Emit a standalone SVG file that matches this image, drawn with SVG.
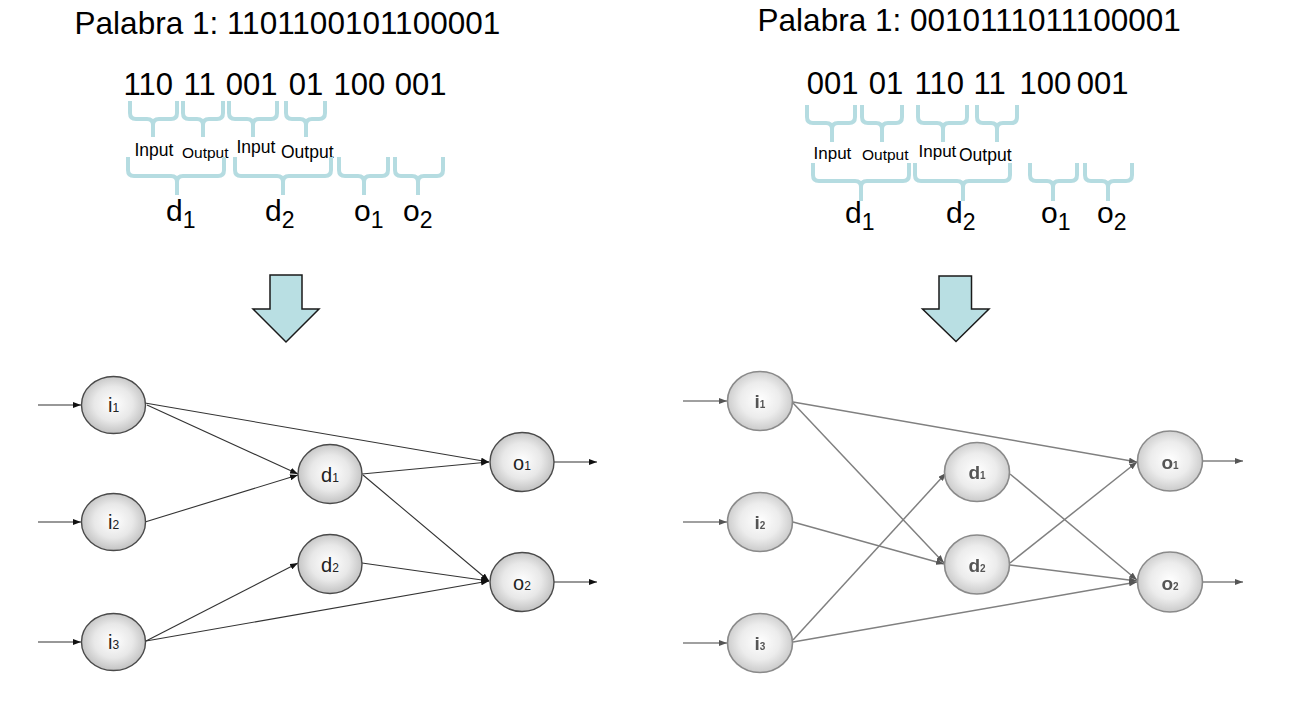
<svg xmlns="http://www.w3.org/2000/svg" width="1304" height="702" viewBox="0 0 1304 702">
<defs>
<radialGradient id="gN" cx="50%" cy="48%" r="55%">
<stop offset="0" stop-color="#ffffff"/>
<stop offset="0.55" stop-color="#e8e8e8"/>
<stop offset="1" stop-color="#bdbdbd"/>
</radialGradient>
<radialGradient id="gR" cx="50%" cy="48%" r="55%">
<stop offset="0" stop-color="#ffffff"/>
<stop offset="0.55" stop-color="#ececec"/>
<stop offset="1" stop-color="#c6c6c6"/>
</radialGradient>
<marker id="ah" viewBox="0 0 8 6" refX="8" refY="3" markerWidth="8" markerHeight="6" markerUnits="userSpaceOnUse" orient="auto">
<path d="M0,0 L8,3 L0,6 Z" fill="#111"/>
</marker>
<marker id="ahR" viewBox="0 0 8 6" refX="8" refY="3" markerWidth="8" markerHeight="6" markerUnits="userSpaceOnUse" orient="auto">
<path d="M0,0 L8,3 L0,6 Z" fill="#555"/>
</marker>
<filter id="soft" x="-10%" y="-10%" width="120%" height="120%">
<feGaussianBlur stdDeviation="0.55"/>
</filter>
</defs>
<style>
text{font-family:"Liberation Sans",Arial,sans-serif;fill:#000}
.title{font-size:31.5px}
.bits{font-size:31px}
.brace{fill:none;stroke:#b5dce1;stroke-width:4}
.down{fill:#b9dfe3;stroke:#1a1a1a;stroke-width:1.5}
.big{font-size:30px}
.bsub{font-size:23px}
.nodeL ellipse{fill:url(#gN);stroke:#4a4a4a;stroke-width:1.4}
.nodeL text{font-size:20px;fill:#222}
.nodeR ellipse{fill:url(#gR);stroke:#8a8a8a;stroke-width:1.6}
.nodeR text{font-size:19px;fill:#555;font-weight:bold}
.nodeR{filter:url(#soft)}
.sub{font-size:12px}
.subR{font-size:10px}
.edgeL line{stroke:#333;stroke-width:1.1;marker-end:url(#ah)}
.edgeR{filter:url(#soft)}
.edgeR line{stroke:#808080;stroke-width:1.5;marker-end:url(#ahR)}
</style>
<rect width="1304" height="702" fill="#ffffff"/>

<!-- LEFT HEADER -->
<g id="left-header">
<text class="title" x="74.6" y="34">Palabra 1: 1101100101100001</text>
<text class="bits" y="95"><tspan x="123.6">110</tspan><tspan x="183.6">11</tspan><tspan x="225.7">001</tspan><tspan x="288.7">01</tspan><tspan x="333.6">100</tspan><tspan x="394.7">001</tspan></text>
<g id="left-braces-top">
<path class="brace" d="M130,101 V113 Q130,119 136,119 H147 Q153,119 153,125 V137 M153,125 Q153,119 159,119 H171 Q177,119 177,113 V101"/>
<path class="brace" d="M183,101 V113 Q183,119 189,119 H197 Q203,119 203,125 V137 M203,125 Q203,119 209,119 H217 Q223,119 223,113 V101"/>
<path class="brace" d="M229,101 V113 Q229,119 235,119 H247 Q253,119 253,125 V137 M253,125 Q253,119 259,119 H271 Q277,119 277,113 V101"/>
<path class="brace" d="M286,101 V113 Q286,119 292,119 H300 Q306,119 306,125 V137 M306,125 Q306,119 312,119 H319 Q325,119 325,113 V101"/>
</g>
<text x="134.5" y="156" style="font-size:17.5px">Input</text>
<text x="182" y="158" style="font-size:15.5px">Output</text>
<text x="236.5" y="153" style="font-size:17.5px">Input</text>
<text x="281" y="157.5" style="font-size:17.5px">Output</text>
<g id="left-braces-bottom">
<path class="brace" d="M128,157 V170 Q128,176 134,176 H171 Q177,176 177,182 V195 M177,182 Q177,176 183,176 H218 Q224,176 224,170 V157"/>
<path class="brace" d="M235,157 V170 Q235,176 241,176 H277 Q283,176 283,182 V195 M283,182 Q283,176 289,176 H325 Q331,176 331,170 V157"/>
<path class="brace" d="M339,157 V170 Q339,176 345,176 H358 Q364,176 364,182 V195 M364,182 Q364,176 370,176 H382 Q388,176 388,170 V157"/>
<path class="brace" d="M395,157 V170 Q395,176 401,176 H412 Q418,176 418,182 V195 M418,182 Q418,176 424,176 H437 Q443,176 443,170 V157"/>
</g>
<text class="big" x="166" y="221">d<tspan class="bsub" dy="7">1</tspan></text>
<text class="big" x="265" y="221">d<tspan class="bsub" dy="7">2</tspan></text>
<text class="big" x="354" y="221">o<tspan class="bsub" dy="7">1</tspan></text>
<text class="big" x="403" y="221">o<tspan class="bsub" dy="7">2</tspan></text>
<polygon class="down" points="270,275 302,275 302,309 319,309 286,342 253,309 270,309"/>
</g>

<!-- RIGHT HEADER -->
<g id="right-header">
<text class="title" x="757.6" y="31">Palabra 1: 0010111011100001</text>
<text class="bits" y="93.5"><tspan x="806.7">001</tspan><tspan x="868.7">01</tspan><tspan x="914.6">110</tspan><tspan x="973.6">11</tspan><tspan x="1019.6">100</tspan><tspan x="1076.7">001</tspan></text>
<g id="right-braces-top">
<path class="brace" d="M807,105 V117 Q807,123 813,123 H826 Q832,123 832,129 V142 M832,129 Q832,123 838,123 H849 Q855,123 855,117 V105"/>
<path class="brace" d="M862,105 V117 Q862,123 868,123 H876 Q882,123 882,129 V142 M882,129 Q882,123 888,123 H896 Q902,123 902,117 V105"/>
<path class="brace" d="M918,105 V117 Q918,123 924,123 H937 Q943,123 943,129 V142 M943,129 Q943,123 949,123 H961 Q967,123 967,117 V105"/>
<path class="brace" d="M977,105 V117 Q977,123 983,123 H991 Q997,123 997,129 V142 M997,129 Q997,123 1003,123 H1011 Q1017,123 1017,117 V105"/>
</g>
<text x="813.5" y="159" style="font-size:17px">Input</text>
<text x="862" y="160" style="font-size:15.5px">Output</text>
<text x="918.5" y="156.7" style="font-size:17px">Input</text>
<text x="959" y="160.5" style="font-size:17.5px">Output</text>
<g id="right-braces-bottom">
<path class="brace" d="M813,163 V175 Q813,181 819,181 H855 Q861,181 861,187 V201 M861,187 Q861,181 867,181 H903 Q909,181 909,175 V163"/>
<path class="brace" d="M915,163 V175 Q915,181 921,181 H957 Q963,181 963,187 V201 M963,187 Q963,181 969,181 H1004 Q1010,181 1010,175 V163"/>
<path class="brace" d="M1030,163 V175 Q1030,181 1036,181 H1047 Q1053,181 1053,187 V201 M1053,187 Q1053,181 1059,181 H1071 Q1077,181 1077,175 V163"/>
<path class="brace" d="M1085,163 V175 Q1085,181 1091,181 H1102 Q1108,181 1108,187 V201 M1108,187 Q1108,181 1114,181 H1126 Q1132,181 1132,175 V163"/>
</g>
<text class="big" x="845" y="222.5">d<tspan class="bsub" dy="7">1</tspan></text>
<text class="big" x="946" y="222.5">d<tspan class="bsub" dy="7">2</tspan></text>
<text class="big" x="1041" y="222.5">o<tspan class="bsub" dy="7">1</tspan></text>
<text class="big" x="1097" y="222.5">o<tspan class="bsub" dy="7">2</tspan></text>
<polygon class="down" points="939,276 971.5,276 971.5,309 989,309 956,341.5 922.5,309 939,309"/>
</g>

<!-- LEFT NETWORK CONNECTORS -->
<g id="left-connectors" class="edgeL">
<line x1="38" y1="405" x2="81" y2="405"/>
<line x1="38" y1="522" x2="81" y2="522"/>
<line x1="38" y1="642" x2="81" y2="642"/>
<line x1="145" y1="403" x2="489" y2="462"/>
<line x1="147" y1="405" x2="298" y2="474"/>
<line x1="145" y1="522" x2="298" y2="475"/>
<line x1="146" y1="641" x2="298" y2="563"/>
<line x1="146" y1="641" x2="489" y2="581"/>
<line x1="362" y1="474" x2="489" y2="462"/>
<line x1="363" y1="475" x2="489" y2="581"/>
<line x1="362" y1="563" x2="489" y2="581"/>
<line x1="554" y1="462" x2="597" y2="462"/>
<line x1="554" y1="582" x2="597" y2="582"/>
</g>

<!-- LEFT NETWORK NODES -->
<g id="L-i1" class="nodeL"><ellipse cx="113.5" cy="405" rx="32" ry="28.5"/><text x="113.5" y="412" text-anchor="middle">i<tspan class="sub">1</tspan></text></g>
<g id="L-i2" class="nodeL"><ellipse cx="113.5" cy="522" rx="32" ry="28.5"/><text x="113.5" y="529" text-anchor="middle">i<tspan class="sub">2</tspan></text></g>
<g id="L-i3" class="nodeL"><ellipse cx="113.5" cy="642" rx="32" ry="28.5"/><text x="113.5" y="649" text-anchor="middle">i<tspan class="sub">3</tspan></text></g>
<g id="L-d1" class="nodeL"><ellipse cx="330" cy="474" rx="32" ry="29.5"/><text x="330" y="481.5" text-anchor="middle">d<tspan class="sub">1</tspan></text></g>
<g id="L-d2" class="nodeL"><ellipse cx="330" cy="564" rx="32" ry="29.5"/><text x="330" y="571.5" text-anchor="middle">d<tspan class="sub">2</tspan></text></g>
<g id="L-o1" class="nodeL"><ellipse cx="522" cy="462" rx="32" ry="29.5"/><text x="522" y="470" text-anchor="middle">o<tspan class="sub">1</tspan></text></g>
<g id="L-o2" class="nodeL"><ellipse cx="522" cy="582" rx="32" ry="29.5"/><text x="522" y="590" text-anchor="middle">o<tspan class="sub">2</tspan></text></g>

<!-- RIGHT NETWORK CONNECTORS -->
<g id="right-connectors" class="edgeR">
<line x1="683" y1="401" x2="727" y2="401"/>
<line x1="683" y1="522" x2="727" y2="522"/>
<line x1="683" y1="643" x2="727" y2="643"/>
<line x1="793" y1="402" x2="1137" y2="462"/>
<line x1="793" y1="403" x2="944" y2="563"/>
<line x1="793" y1="522" x2="944" y2="564"/>
<line x1="793" y1="640" x2="946" y2="473"/>
<line x1="793" y1="642" x2="1137" y2="582"/>
<line x1="1010" y1="474" x2="1137" y2="580"/>
<line x1="1010" y1="563" x2="1137" y2="462"/>
<line x1="1010" y1="565" x2="1137" y2="581"/>
<line x1="1203" y1="461" x2="1243" y2="461"/>
<line x1="1203" y1="582" x2="1243" y2="582"/>
</g>

<!-- RIGHT NETWORK NODES -->
<g id="R-i1" class="nodeR"><ellipse cx="760" cy="401" rx="32.5" ry="29.5"/><text x="760" y="407.5" text-anchor="middle">i<tspan class="subR">1</tspan></text></g>
<g id="R-i2" class="nodeR"><ellipse cx="760" cy="522" rx="32.5" ry="29.5"/><text x="760" y="528.5" text-anchor="middle">i<tspan class="subR">2</tspan></text></g>
<g id="R-i3" class="nodeR"><ellipse cx="760" cy="643" rx="32.5" ry="29.5"/><text x="760" y="649.5" text-anchor="middle">i<tspan class="subR">3</tspan></text></g>
<g id="R-d1" class="nodeR"><ellipse cx="977" cy="472" rx="32.5" ry="29.5"/><text x="977" y="479" text-anchor="middle">d<tspan class="subR">1</tspan></text></g>
<g id="R-d2" class="nodeR"><ellipse cx="977" cy="564.5" rx="32.5" ry="29.5"/><text x="977" y="571.5" text-anchor="middle">d<tspan class="subR">2</tspan></text></g>
<g id="R-o1" class="nodeR"><ellipse cx="1170" cy="461" rx="32.5" ry="30"/><text x="1170" y="468.5" text-anchor="middle">o<tspan class="subR">1</tspan></text></g>
<g id="R-o2" class="nodeR"><ellipse cx="1170" cy="582" rx="32.5" ry="30"/><text x="1170" y="589.5" text-anchor="middle">o<tspan class="subR">2</tspan></text></g>
</svg>
